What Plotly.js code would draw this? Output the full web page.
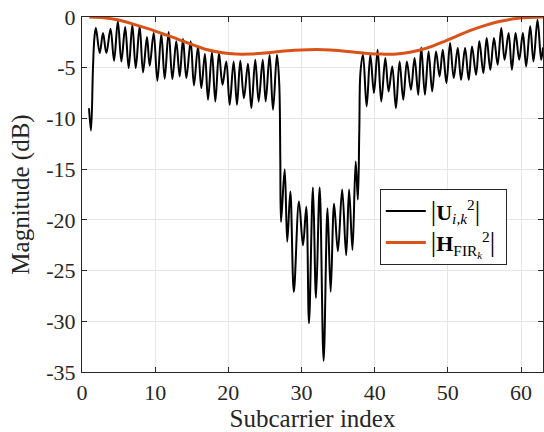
<!DOCTYPE html>
<html>
<head>
<meta charset="utf-8">
<script src="https://cdn.plot.ly/plotly-3.0.1.min.js"></script>
<style>
html,body{margin:0;padding:0;background:#fff;}
#chart{width:544px;height:432px;}
</style>
</head>
<body>
<div id="chart"></div>
<script>
// Black curve |U_{i,k}^2| : points read at peaks/troughs (and steep edges)
const uX = [
  0.96, 1.23, 1.5, 1.7, 1.9,
  2.42, 2.87, 3.33, 3.9, 4.38, 4.9, 5.38, 5.9, 6.38, 6.88, 7.34, 7.88, 8.34, 8.88,
  9.25, 9.8, 10.3, 10.84, 11.3, 11.84, 12.35, 12.88, 13.35, 13.8, 14.26, 14.85,
  15.3, 15.85, 16.3, 16.8, 17.22, 17.76, 18.22, 18.72, 19.2, 19.72, 20.18, 20.72,
  21.18, 21.63, 22.13, 22.68, 23.14, 23.68, 24.14, 24.7, 25.1, 25.64, 26.1, 26.64,
  26.95, 27.1, 27.2,
  27.7, 28.05, 28.47, 28.95, 29.65, 30.2, 30.65, 31.02, 31.56, 31.98, 32.48, 33.02,
  33.55, 33.98, 34.45, 34.97, 35.55, 36.1, 36.5, 36.96, 37.4, 37.7,
  37.9, 38.05,
  38.4, 38.9, 39.4, 39.9, 40.4, 40.9, 41.45, 41.9, 42.4, 42.9, 43.4, 43.9, 44.4,
  44.95, 45.45, 45.95, 46.36, 46.86, 47.36, 47.86, 48.38, 48.87, 49.3, 49.8, 50.3,
  50.8, 51.35, 51.8, 52.35, 52.85, 53.3, 53.85, 54.3, 54.85, 55.3, 55.8, 56.3,
  56.8, 57.3, 57.75, 58.3, 58.75, 59.25, 59.75, 60.25, 60.7, 61.25, 61.7, 62.25,
  62.75, 63.0
];
const uY = [
  -9.0, -11.2, -5.0, -2.0, -1.09,
  -3.56, -1.58, -3.56, -1.15, -4.31, -0.43, -4.38, -0.99, -5.04, -0.76, -5.04, -0.92, -5.46, -1.98,
  -4.81, -1.58, -6.29, -1.68, -6.09, -1.48, -6.12, -2.40, -5.86, -2.17, -6.02, -2.40,
  -6.75, -2.90, -7.01, -3.65, -8.16, -3.46, -8.33, -3.56, -6.68, -4.38, -8.65, -4.38,
  -8.65, -4.31, -8.0, -4.61, -8.98, -4.22, -8.33, -4.22, -8.33, -3.72, -9.15, -3.72,
  -6.5, -14.0, -20.2,
  -15.0, -22.15, -17.2, -27.1, -18.2, -22.5, -18.7, -30.2, -16.8, -27.7, -16.8, -33.9,
  -18.85, -27.1, -18.4, -23.1, -17.0, -23.5, -17.0, -22.97, -14.25, -18.0,
  -11.0, -5.5,
  -3.72, -8.82, -3.72, -7.5, -3.23, -8.33, -4.05, -7.34, -4.87, -8.98, -4.38, -8.16, -4.38,
  -7.17, -4.05, -7.67, -3.0, -7.67, -3.39, -7.34, -3.39, -5.86, -3.23, -6.5, -2.57,
  -6.02, -3.06, -6.19, -3.06, -6.19, -2.90, -5.69, -2.4, -5.53, -2.07, -5.2, -2.07,
  -4.71, -1.09, -4.22, -1.58, -5.2, -1.58, -4.22, -1.58, -4.87, -0.92, -4.38, -0.27,
  -4.22, -3.0
];
// Orange curve |H_FIR_k^2|
const hX = [1, 3, 5, 7, 9, 11, 13, 15, 17, 19, 21, 23, 25, 27, 29, 31, 33, 35, 37, 39, 41, 43, 45, 47, 49, 51, 53, 55, 57, 59, 61, 63];
const hY = [0, -0.08, -0.3, -0.7, -1.15, -1.65, -2.15, -2.7, -3.2, -3.5, -3.65, -3.65, -3.55, -3.4, -3.28, -3.22, -3.22, -3.3, -3.45, -3.6, -3.66, -3.65, -3.45, -3.1, -2.55, -1.95, -1.35, -0.85, -0.45, -0.18, -0.05, 0];

const xTicks = [0, 10, 20, 30, 40, 50, 60];
const xTickText = ['0', '10', '20', '30', '40', '50', '60'];
const yTicks = [-35, -30, -25, -20, -15, -10, -5, 0];
const yTickText = ['-35', '-30', '-25', '-20', '-15', '-10', '-5', '0'];

const BAR = '<span style="font-size:27px">|</span>';
const legendU = BAR + '<b>U</b><sub><i>i,k</i></sub><sup>2</sup>' + BAR;
const legendH = BAR + '<b>H</b><sub>FIR<sub><i>k</i></sub></sub><sup>2</sup>' + BAR + ' ';

const FONT = 'Liberation Serif, Times New Roman, serif';
const AX = '#262626';

const traces = [
  {x: uX, y: uY, type: 'scatter', mode: 'lines', name: legendU,
   line: {color: '#000000', width: 2, shape: 'spline', smoothing: 1}},
  {x: hX, y: hY, type: 'scatter', mode: 'lines', name: legendH,
   line: {color: '#D95319', width: 3, shape: 'spline', smoothing: 1}}
];

const layout = {
  width: 544, height: 432,
  margin: {l: 82, r: 1, t: 17, b: 60},
  paper_bgcolor: '#ffffff', plot_bgcolor: '#ffffff',
  font: {family: FONT, size: 22, color: '#262626'},
  showlegend: true,
  legend: {x: 0.646, y: 0.515, xanchor: 'left', yanchor: 'top',
           bgcolor: '#ffffff', bordercolor: AX, borderwidth: 1,
           tracegroupgap: 0, itemwidth: 40,
           font: {family: FONT, size: 22, color: '#000'}},
  xaxis: {range: [0, 63], tickvals: xTicks, ticktext: xTickText,
          showline: true, linecolor: AX, linewidth: 1, mirror: 'ticks',
          ticks: 'inside', ticklen: 5, tickcolor: AX, ticklabelstandoff: 1,
          showgrid: true, gridcolor: '#e6e6e6', gridwidth: 1, zeroline: false,
          tickfont: {family: FONT, size: 22, color: '#262626'},
          title: {text: 'Subcarrier index', font: {family: FONT, size: 25, color: '#262626'}, standoff: 6}},
  yaxis: {range: [-35, 0], tickvals: yTicks, ticktext: yTickText,
          showline: true, linecolor: AX, linewidth: 1, mirror: 'ticks',
          ticks: 'inside', ticklen: 5, tickcolor: AX, ticklabelstandoff: 1,
          showgrid: true, gridcolor: '#e6e6e6', gridwidth: 1, zeroline: false,
          tickfont: {family: FONT, size: 22, color: '#262626'},
          title: {text: 'Magnitude (dB)', font: {family: FONT, size: 25, color: '#262626'}, standoff: 9}}
};

Plotly.newPlot('chart', traces, layout, {staticPlot: true, displayModeBar: false});
</script>
</body>
</html>
